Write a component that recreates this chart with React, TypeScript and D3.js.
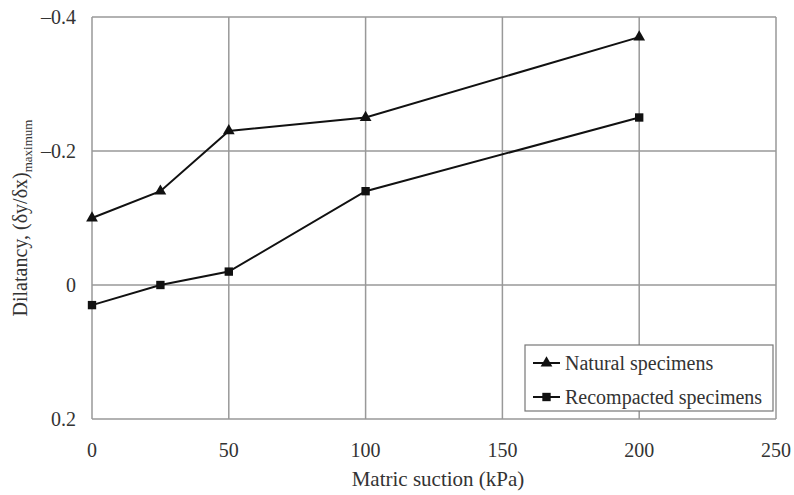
import { useRef, useEffect } from 'react';
import * as d3 from 'd3';

const suction = [0, 25, 50, 100, 200];
const natural = [-0.1, -0.14, -0.23, -0.25, -0.37];
const recompacted = [0.03, 0, -0.02, -0.14, -0.25];
const xTicks = [0, 50, 100, 150, 200, 250];
const yTicks = [-0.4, -0.2, 0, 0.2];
const yTickLabels = ['\u20130.4', '\u20130.2', '0', '0.2'];

function App() {
    const svgRef = useRef<SVGSVGElement>(null);

    useEffect(() => {
        const width = 794;
        const height = 495;
        const margin = { left: 92, right: 18, top: 17, bottom: 76 };
        const font = '"Liberation Serif", "Times New Roman", serif';

        const svg = d3.select(svgRef.current);
        svg.selectAll('*').remove();

        const x = d3.scaleLinear().domain([0, 250]).range([margin.left, width - margin.right]);
        const y = d3.scaleLinear().domain([-0.4, 0.2]).range([margin.top, height - margin.bottom]);

        const grid = svg.append('g');
        grid.selectAll('line.v')
            .data(xTicks)
            .enter()
            .append('line')
            .attr('x1', d => x(d))
            .attr('x2', d => x(d))
            .attr('y1', y(-0.4))
            .attr('y2', y(0.2))
            .attr('stroke', '#999')
            .attr('stroke-width', 1.5);
        grid.selectAll('line.h')
            .data(yTicks)
            .enter()
            .append('line')
            .attr('x1', x(0))
            .attr('x2', x(250))
            .attr('y1', d => y(d))
            .attr('y2', d => y(d))
            .attr('stroke', '#999')
            .attr('stroke-width', 1.5);

        // tick labels
        svg.selectAll('text.xt')
            .data(xTicks)
            .enter()
            .append('text')
            .attr('x', d => x(d))
            .attr('y', y(0.2) + 38)
            .attr('text-anchor', 'middle')
            .attr('font-family', font)
            .attr('font-size', 20)
            .attr('fill', '#333')
            .text(d => d);
        svg.selectAll('text.yt')
            .data(yTicks)
            .enter()
            .append('text')
            .attr('x', 76)
            .attr('y', d => y(d) + 7)
            .attr('text-anchor', 'end')
            .attr('font-family', font)
            .attr('font-size', 20)
            .attr('fill', '#333')
            .text((_, i) => yTickLabels[i]);

        // axis titles
        svg.append('text')
            .attr('x', (x(0) + x(250)) / 2 + 4)
            .attr('y', 486)
            .attr('text-anchor', 'middle')
            .attr('font-family', font)
            .attr('font-size', 21)
            .attr('fill', '#333')
            .text('Matric suction (kPa)');

        const yTitle = svg.append('text')
            .attr('transform', 'translate(27, 218) rotate(-90)')
            .attr('text-anchor', 'middle')
            .attr('font-family', font)
            .attr('font-size', 20)
            .attr('fill', '#333');
        yTitle.append('tspan').text('Dilatancy, (\u03b4y/\u03b4x)');
        yTitle.append('tspan').attr('font-size', 13).attr('dy', 5).text('maximum');

        const line = d3.line<number>()
            .x((_, i) => x(suction[i]))
            .y(d => y(d));

        const triangle = d3.symbol().type(d3.symbolTriangle).size(60);
        const square = d3.symbol().type(d3.symbolSquare).size(70);

        const series = [
            { values: natural, sym: triangle },
            { values: recompacted, sym: square },
        ];

        series.forEach(s => {
            svg.append('path')
                .attr('d', line(s.values))
                .attr('fill', 'none')
                .attr('stroke', '#111')
                .attr('stroke-width', 2);
            svg.selectAll(null)
                .data(s.values)
                .enter()
                .append('path')
                .attr('d', s.sym)
                .attr('transform', (d, i) => `translate(${x(suction[i])}, ${y(d)})`)
                .attr('fill', '#111');
        });

        // legend
        const legend = svg.append('g').attr('transform', 'translate(525, 345)');
        legend.append('rect')
            .attr('width', 248)
            .attr('height', 66)
            .attr('fill', 'white')
            .attr('stroke', '#777')
            .attr('stroke-width', 1.2);
        const entries = [
            { label: 'Natural specimens', sym: triangle },
            { label: 'Recompacted specimens', sym: square },
        ];
        entries.forEach((e, i) => {
            const cy = 18 + i * 34;
            legend.append('line')
                .attr('x1', 8)
                .attr('x2', 35)
                .attr('y1', cy)
                .attr('y2', cy)
                .attr('stroke', '#111')
                .attr('stroke-width', 2);
            legend.append('path')
                .attr('d', e.sym)
                .attr('transform', `translate(21.5, ${cy})`)
                .attr('fill', '#111');
            legend.append('text')
                .attr('x', 40)
                .attr('y', cy + 7)
                .attr('font-family', font)
                .attr('font-size', 20)
                .attr('fill', '#333')
                .text(e.label);
        });
    }, []);

    return (
        <div style={{ position: 'absolute', left: 0, top: 0 }}>
            <svg ref={svgRef} width={794} height={495} style={{ display: 'block', background: 'white' }}></svg>
        </div>
    );
}

export default App;
